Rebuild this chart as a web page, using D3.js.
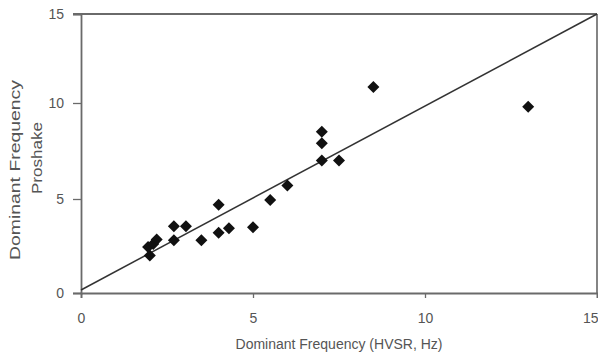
<!DOCTYPE html>
<html><head><meta charset="utf-8">
<script src="https://cdn.jsdelivr.net/npm/d3@7"></script>
<style>body{margin:0;background:#fff}svg{display:block}text{font-family:"Liberation Sans",Arial,sans-serif}</style>
</head><body>
<svg id="c" width="598" height="360"></svg>
<script>
const hvsr =     [2.0, 1.95, 2.1, 2.2, 2.7, 2.7, 3.05, 3.5, 4.0, 4.0, 4.3, 5.0, 5.5, 6.0, 7.0, 7.5, 7.0, 7.0, 8.5, 13.0];
const proshake = [2.0, 2.45, 2.6, 2.85, 2.8, 3.55, 3.55, 2.8, 4.7, 3.2, 3.45, 3.5, 4.95, 5.7, 7.0, 7.0, 7.9, 8.5, 10.9, 9.8];
const xTicks = [0, 5, 10, 15];
const yTicks = [0, 5, 10, 15];
const fitLine = [[0, 0.16], [15, 15]];
const xTitle = "Dominant Frequency (HVSR, Hz)";
const yTitle = ["Dominant Frequency", "Proshake"];

const svg = d3.select("#c");
const L = 81, R = 597, T = 14, B = 293;
const x = d3.scaleLinear().domain([0, 15]).range([L, R]);
const y = d3.scaleLinear().domain([0, 5, 10, 15]).range([B, 199, 103, T]);
const axisCol = "#6a6a6a", textCol = "#555";

// frame top & right
svg.append("line").attr("x1", L - 8).attr("x2", R).attr("y1", T).attr("y2", T).attr("stroke", axisCol).attr("stroke-width", 1.8);
svg.append("line").attr("x1", R).attr("x2", R).attr("y1", T).attr("y2", B).attr("stroke", "#333").attr("stroke-width", 1.2);

const xa = svg.append("g").attr("transform", `translate(0,${B})`)
  .call(d3.axisBottom(x).tickValues(xTicks).tickSize(5).tickPadding(15).tickFormat(d3.format("d")));
const ya = svg.append("g").attr("transform", `translate(${L},0)`)
  .call(d3.axisLeft(y).tickValues(yTicks).tickSize(8).tickPadding(9).tickFormat(d3.format("d")));
[xa, ya].forEach(a => {
  a.select(".domain").attr("stroke", axisCol).attr("stroke-width", 1.8);
  a.selectAll(".tick line").attr("stroke", axisCol).attr("stroke-width", 1.3);
  a.selectAll("text").attr("fill", textCol).style("font-size", "14px");
});
xa.selectAll(".tick").filter(d => d === 15).select("text").attr("text-anchor", "end").attr("x", 1);

// 1:1 line
svg.append("line")
  .attr("x1", x(fitLine[0][0])).attr("y1", y(fitLine[0][1]))
  .attr("x2", x(fitLine[1][0])).attr("y2", y(fitLine[1][1]))
  .attr("stroke", "#333").attr("stroke-width", 1.5);

// points
const diamond = d3.symbol().type(d3.symbolSquare).size(72);
svg.append("g").selectAll("path").data(hvsr.map((v, i) => [v, proshake[i]])).join("path")
  .attr("d", diamond)
  .attr("transform", d => `translate(${x(d[0])},${y(d[1])}) rotate(45)`)
  .attr("fill", "#111");

svg.append("text").attr("x", (L + R) / 2).attr("y", 349).attr("text-anchor", "middle")
  .attr("fill", textCol).style("font-size", "14px").text(xTitle);
const yPos = [[20, 170, 180], [42, 158, 72]];
yTitle.forEach((t, i) => {
  svg.append("text").attr("transform", `translate(${yPos[i][0]},${yPos[i][1]}) rotate(-90)`)
    .attr("text-anchor", "middle").attr("fill", textCol).style("font-size", "14px")
    .attr("textLength", yPos[i][2]).attr("lengthAdjust", "spacingAndGlyphs").text(t);
});
</script>
</body></html>
